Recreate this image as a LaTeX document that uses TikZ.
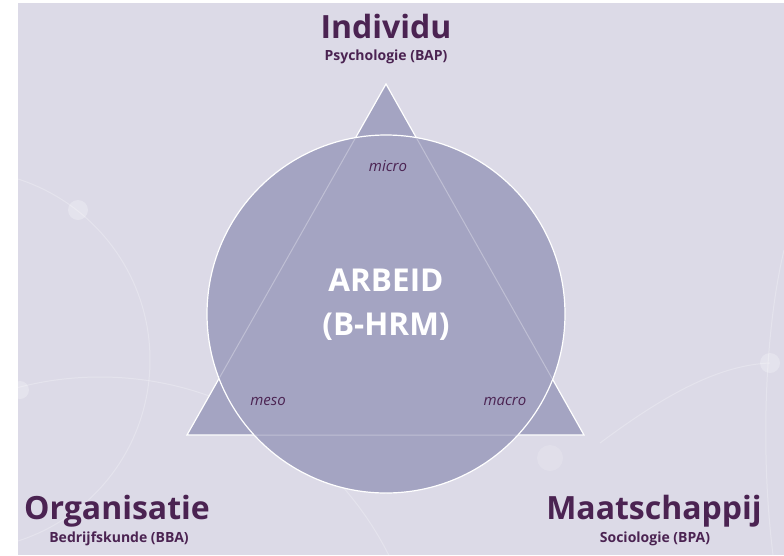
\documentclass[tikz,border=0pt]{standalone}
\usepackage{fontspec}
\setmainfont{Open Sans}
\usepackage{xcolor}
\usetikzlibrary{positioning, calc}
\definecolor{bgcol}{HTML}{DCDAE7}
\definecolor{shapecol}{HTML}{A4A4C2}
\definecolor{titlecol}{HTML}{4B2352}
\tikzstyle{title} = [text=titlecol, font=\bfseries\fontsize{32}{32}\selectfont, inner sep=0pt]
\tikzstyle{subtitle} = [text=titlecol, font=\bfseries\fontsize{14}{14}\selectfont, inner sep=0pt]
\tikzstyle{level} = [text=titlecol, font=\itshape\fontsize{15}{15}\selectfont, inner sep=0pt]
\tikzstyle{core} = [text=white, font=\bfseries\fontsize{31.5}{31.5}\selectfont, inner sep=0pt]
\tikzstyle{deco} = [white, opacity=0.25, line width=1pt]

\begin{document}
\begin{tikzpicture}[x=1pt, y=-1pt]
\useasboundingbox (0,0) rectangle (784,555);
\fill[white] (0,0) rectangle (784,555);
\fill[bgcol] (18,3) rectangle (784,555);
% background decoration
\begin{scope}
\clip (18,3) rectangle (784,555);
\draw[deco] (-40,360) circle (190);
\draw[deco] (100,700) circle (323);
\fill[white, opacity=0.25] (78,210) circle (10);
\fill[white, opacity=0.25] (20,390) circle (9);
\draw[deco] (600,443) .. controls (667,393) and (720,365) .. (770,363);
\draw[deco] (773,555) .. controls (760,450) and (765,330) .. (784,250);
\fill[white, opacity=0.25] (770,363) circle (10);
\fill[white, opacity=0.15] (550,458) circle (13);
\end{scope}

\coordinate (top) at (386,84);
\coordinate (left) at (187,435);
\coordinate (right) at (584,435);
\fill[shapecol] (top) -- (left) -- (right) -- cycle;
\draw[white, line width=1.2pt, line join=miter] (top) -- (left) -- (right) -- cycle;
\node (arbeid) [circle, minimum size=358pt, fill=shapecol, draw=white, line width=1.2pt] at (386,314) {};
% triangle seen through the circle
\begin{scope}
\clip (386,314) circle (178);
\draw[white, opacity=0.3, line width=1pt] (top) -- (left) -- (right) -- cycle;
\end{scope}

\node (ar) [core] at (386,280) {ARBEID};
\node (hrm) [core] at (386,327) {(B-HRM)};
\node (micro) [level] at (388,166) {micro};
\node (meso) [level] at (268,401) {meso};
\node (macro) [level] at (505,401) {macro};

\node (individu) [title] at (386,26) {Individu};
\node (psy) [subtitle] at (386,57) {Psychologie (BAP)};
\node (organisatie) [title] at (117,511) {Organisatie};
\node (bba) [subtitle] at (119,539) {Bedrijfskunde (BBA)};
\node (maatschappij) [title] at (654,511) {Maatschappij};
\node (bpa) [subtitle] at (655,539) {Sociologie (BPA)};
\end{tikzpicture}
\end{document}
